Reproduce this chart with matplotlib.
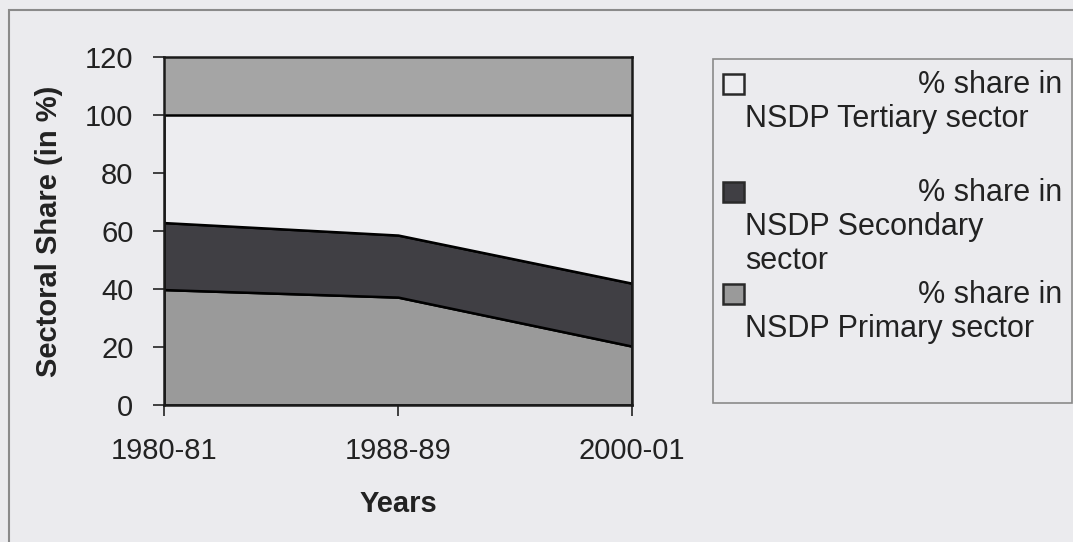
import matplotlib
matplotlib.use('Agg')
import matplotlib.pyplot as plt
from matplotlib.patches import Rectangle

# sectoral shares of NSDP (%), bottom to top in the stack
years = ['1980-81', '1988-89', '2000-01']
primary = [39.8, 37.2, 20.3]
secondary = [23.1, 21.4, 21.7]
tertiary = [37.1, 41.4, 58.0]
y_ticks = [0, 20, 40, 60, 80, 100, 120]

legend_rows = [
    ('% share in', ['NSDP Tertiary sector']),
    ('% share in', ['NSDP Secondary', 'sector']),
    ('% share in', ['NSDP Primary sector']),
]

paper = '#ebebee'
c_primary = '#9a9a9a'
c_secondary = '#403f44'
c_tertiary = '#ededf0'
plot_bg = '#a5a5a5'

plt.rcParams['font.family'] = ['Liberation Sans', 'DejaVu Sans']

W, H = 1073, 542
fig = plt.figure(figsize=(W / 100, H / 100), dpi=100, facecolor=paper)


def fx(px):
    return px / W


def fy(py):
    return 1 - py / H


# outer chart frame
fig.patches.append(Rectangle((fx(9), fy(H + 5)), fx(W + 5), fy(10) - fy(H + 5),
                             transform=fig.transFigure, fill=False,
                             edgecolor='#8a8a8a', linewidth=1.5))

ax = fig.add_axes([fx(164), fy(405), fx(632) - fx(164), fy(57) - fy(405)])
ax.set_facecolor(plot_bg)

x = list(range(len(years)))
ax.stackplot(x, primary, secondary, tertiary,
             colors=[c_primary, c_secondary, c_tertiary],
             edgecolor='black', linewidth=1.8)

ax.set_xlim(0, len(years) - 1)
ax.set_ylim(0, 120)
ax.set_xticks(x)
ax.set_xticklabels(years)
ax.set_yticks(y_ticks)
ax.tick_params(axis='both', direction='out', length=8, width=1.2,
               labelsize=21, colors='#222222')
ax.tick_params(axis='x', pad=15)
ax.tick_params(axis='y', pad=14)
for s in ax.spines.values():
    s.set_linewidth(1.8)
    s.set_color('#1a1a1a')

ax.set_xlabel('Years', fontsize=21, fontweight='bold', color='#222222', labelpad=18)
ax.set_ylabel('Sectoral Share (in %)', fontsize=21, fontweight='bold',
              color='#222222', labelpad=16)

# legend drawn by hand: square marker, right-aligned first line, wrapped name below
fig.patches.append(Rectangle((fx(713), fy(403)), fx(1072) - fx(713), fy(59) - fy(403),
                             transform=fig.transFigure, facecolor=paper,
                             edgecolor='#8a8a8a', linewidth=1.2))
swatches = [c_tertiary, c_secondary, c_primary]
row_mid = [85, 193, 295]
for (head, lines), col, yc in zip(legend_rows, swatches, row_mid):
    fig.patches.append(Rectangle((fx(723), fy(yc + 9)), fx(21), fy(0) - fy(20),
                                 transform=fig.transFigure, facecolor=col,
                                 edgecolor='#2a2a2a', linewidth=1.8))
    fig.text(fx(1062), fy(yc), head, ha='right', va='center', fontsize=22, color='#222222')
    for i, ln in enumerate(lines):
        fig.text(fx(745), fy(yc + 34 + i * 34), ln, ha='left', va='center',
                 fontsize=22, color='#222222')

fig.savefig('out.png', dpi=100, facecolor=paper)
